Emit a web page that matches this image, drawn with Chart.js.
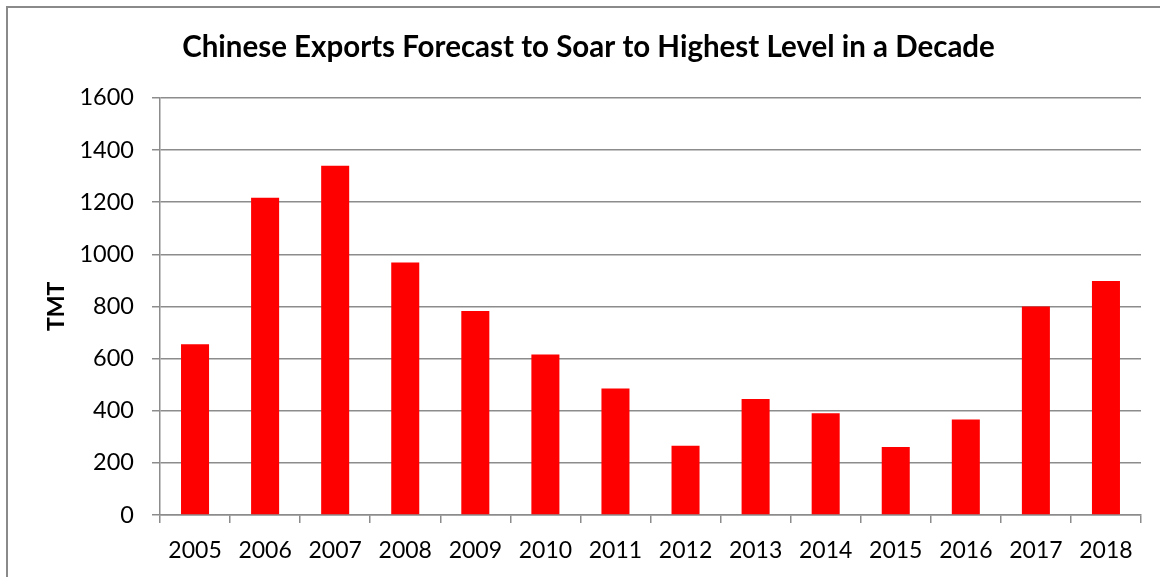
<!DOCTYPE html>
<html>
<head>
<meta charset="utf-8">
<script src="https://cdn.jsdelivr.net/npm/chart.js@4"></script>
<style>
  html, body { margin: 0; padding: 0; background: #ffffff; overflow: hidden; }
  #wrap { position: relative; width: 1160px; height: 577px; }
  #frame { position: absolute; left: 6px; top: 6px; width: 1200px; height: 600px;
           border-left: 2px solid #8a8a8a; border-top: 2px solid #8a8a8a; box-sizing: border-box; }
  canvas { position: absolute; left: 0; top: 0; }
</style>
</head>
<body>
<div id="wrap">
  <div id="frame"></div>
  <canvas id="c" width="1160" height="577"></canvas>
</div>
<script>
const categories = ['2005','2006','2007','2008','2009','2010','2011','2012','2013','2014','2015','2016','2017','2018'];
const exportsTMT = [655, 1217, 1340, 969, 783, 616, 485, 266, 445, 390, 261, 366, 800, 898];
const yTicks = [0, 200, 400, 600, 800, 1000, 1200, 1400, 1600];
const chartTitle = 'Chinese Exports Forecast to Soar to Highest Level in a Decade';
const yTitle = 'TMT';

const FONT = 'Lato, "Open Sans", sans-serif';
const GRID = '#8c8c8c';

new Chart(document.getElementById('c'), {
  type: 'bar',
  data: {
    labels: categories,
    datasets: [{
      data: exportsTMT,
      backgroundColor: '#ff0000',
      borderWidth: 0,
      categoryPercentage: 1.0,
      barPercentage: 0.4
    }]
  },
  options: {
    responsive: false,
    animation: false,
    events: [],
    layout: { padding: { left: 36, right: 19, top: 0, bottom: 0 } },
    plugins: {
      legend: { display: false },
      tooltip: { enabled: false },
      title: {
        display: true,
        text: chartTitle,
        color: '#000000',
        font: { family: FONT, size: 29.5, weight: 'bold', lineHeight: 1.2 },
        padding: { top: 29.5, bottom: 33 }
      }
    },
    scales: {
      x: {
        grid: { display: true, drawOnChartArea: false, drawTicks: true, tickLength: 8, color: GRID, lineWidth: 1.5, offset: true },
        border: { display: true, color: GRID, width: 1.5 },
        ticks: { color: '#000000', font: { family: FONT, size: 23 }, padding: 14, maxRotation: 0, autoSkip: false },
        afterFit: (s) => { s.height = 62; }
      },
      y: {
        min: 0,
        max: 1600,
        afterBuildTicks: (s) => { s.ticks = yTicks.map(v => ({ value: v })); },
        grid: { color: GRID, lineWidth: 1.5, drawTicks: true, tickLength: 8 },
        border: { display: true, color: GRID, width: 1.5 },
        ticks: { color: '#000000', font: { family: FONT, size: 23.5 }, padding: 18, callback: (v) => String(v) },
        title: {
          display: true,
          text: yTitle,
          color: '#000000',
          font: { family: FONT, size: 23, weight: 'bold', lineHeight: 1.2 },
          padding: { top: 7, bottom: 0 }
        },
        afterFit: (s) => { s.width = 124; }
      }
    }
  }
});
</script>
</body>
</html>
